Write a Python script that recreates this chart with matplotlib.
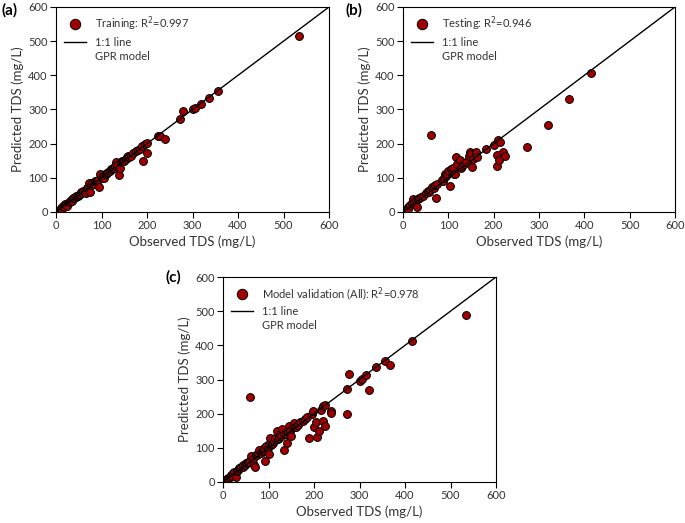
import matplotlib
matplotlib.use("Agg")
import matplotlib.pyplot as plt
from matplotlib.lines import Line2D

plt.rcParams['font.family'] = ['Lato', 'DejaVu Sans']

# ---- data ----
train_obs = [8, 10, 12, 15, 18, 20, 22, 25, 28, 30, 33, 35, 38, 40, 43, 45, 48, 50, 53, 55, 58, 60, 63, 65,
             68, 70, 72, 75, 78, 80, 83, 85, 88, 90, 93, 95, 97, 100, 103, 105, 108, 110, 113, 115, 118, 120,
             123, 125, 128, 130, 132, 135, 138, 140, 143, 145, 148, 150, 153, 155, 158, 160, 165, 170, 175,
             180, 185, 190, 192, 195, 200, 200, 225, 228, 240, 272, 280, 300, 305, 318, 337, 355, 533]
train_pred = [5, 12, 10, 17, 15, 22, 20, 18, 30, 28, 35, 33, 40, 42, 45, 48, 46, 50, 52, 58, 56, 62, 60, 55,
              70, 72, 85, 58, 80, 85, 82, 92, 88, 90, 95, 74, 110, 100, 105, 100, 110, 112, 115, 118, 120, 125,
              125, 130, 130, 135, 145, 138, 108, 128, 145, 148, 150, 150, 155, 162, 165, 160, 165, 172, 178,
              180, 185, 192, 150, 198, 202, 173, 222, 223, 215, 272, 295, 300, 303, 315, 335, 353, 515]

test_obs = [5, 8, 10, 12, 15, 20, 22, 25, 28, 30, 33, 35, 40, 45, 50, 55, 58, 60, 62, 65, 68, 70, 72, 75,
            85, 88, 90, 92, 95, 98, 100, 103, 105, 108, 110, 112, 115, 118, 120, 125, 128, 130, 135, 140,
            145, 148, 150, 153, 155, 160, 163, 183, 200, 207, 208, 210, 212, 213, 220, 224, 274, 320, 367, 415]
test_pred = [3, 8, 15, 10, 20, 25, 37, 30, 35, 15, 38, 40, 45, 48, 55, 62, 60, 65, 225, 72, 70, 80, 40, 82,
             95, 90, 100, 110, 105, 112, 120, 75, 125, 118, 130, 112, 110, 160, 140, 152, 130, 135, 140, 145,
             165, 175, 170, 133, 155, 177, 160, 183, 197, 168, 135, 210, 152, 205, 175, 165, 191, 255, 330, 407]

val_obs = [5, 8, 10, 12, 15, 18, 20, 22, 25, 28, 30, 33, 35, 38, 40, 43, 45, 48, 50, 53, 55, 58, 60, 62, 65,
           68, 70, 72, 75, 78, 80, 83, 85, 88, 90, 92, 95, 98, 100, 100, 103, 105, 108, 110, 113, 115, 118,
           120, 123, 125, 128, 130, 133, 135, 138, 140, 143, 145, 148, 150, 153, 155, 158, 160, 165, 170, 175,
           180, 185, 190, 195, 197, 200, 205, 207, 210, 215, 220, 220, 225, 225, 237, 238, 272, 272, 278, 300,
           305, 315, 320, 337, 355, 366, 415, 533]
val_pred = [5, 10, 12, 10, 15, 20, 18, 25, 30, 15, 32, 35, 40, 42, 45, 45, 50, 50, 55, 55, 58, 60, 250, 75, 68,
            50, 45, 80, 80, 85, 95, 85, 90, 95, 100, 62, 105, 100, 83, 110, 130, 108, 110, 115, 120, 130, 150,
            125, 128, 140, 135, 155, 140, 93, 140, 115, 145, 165, 150, 135, 160, 173, 160, 160, 168, 175, 178,
            183, 190, 128, 200, 207, 160, 175, 133, 150, 212, 178, 222, 165, 226, 208, 202, 273, 198, 315, 296,
            302, 314, 269, 337, 355, 342, 413, 489]

panels = [
    ("(a)", "Training: R$^{2}$=0.997", train_obs, train_pred),
    ("(b)", "Testing: R$^{2}$=0.946", test_obs, test_pred),
    ("(c)", "Model validation (All): R$^{2}$=0.978", val_obs, val_pred),
]
ticks = [0, 100, 200, 300, 400, 500, 600]

W, H = 685, 523
fig = plt.figure(figsize=(W / 100, H / 100), dpi=100)
rects = [
    (56 / W, 1 - 212 / H, 273 / W, 205 / H),
    (403 / W, 1 - 212 / H, 272 / W, 205 / H),
    (223 / W, 1 - 482 / H, 273 / W, 205 / H),
]
label_pos = [(1, 10), (345, 10), (165, 277)]

red = "#a00000"
txt = "#333333"
for (lab, leg, xo, yp), rect, lp in zip(panels, rects, label_pos):
    ax = fig.add_axes(rect)
    ax.plot([0, 600], [0, 600], color="black", lw=1.0, zorder=3)
    ax.scatter(xo, yp, s=32, color=red, edgecolor="black", linewidth=0.7, zorder=2)
    ax.set_xlim(0, 600)
    ax.set_ylim(0, 600)
    ax.set_xticks(ticks)
    ax.set_yticks(ticks)
    ax.tick_params(direction="out", length=4, width=0.8, labelsize=8, colors="black", labelcolor=txt, pad=2)
    for s in ax.spines.values():
        s.set_linewidth(0.8)
    ax.set_xlabel("Observed TDS (mg/L)", fontsize=9.5, color=txt, labelpad=3)
    ax.set_ylabel("Predicted TDS (mg/L)", fontsize=9.5, color=txt, labelpad=3)
    handles = [
        Line2D([], [], marker="o", ls="none", markersize=7.5, markerfacecolor=red, markeredgecolor="black", markeredgewidth=0.7),
        Line2D([], [], color="black", lw=1.0),
        Line2D([], [], ls="none"),
    ]
    ax.legend(handles, [leg, "1:1 line", "GPR model"], loc="upper left", frameon=False, fontsize=8,
              labelcolor=txt, handlelength=2.0, handletextpad=0.8, borderaxespad=0.3,
              labelspacing=0.3, bbox_to_anchor=(0.0, 1.0))
    fig.text(lp[0] / W, 1 - lp[1] / H, lab, fontsize=11, fontweight="bold", ha="left", va="center")

fig.savefig("out.png", dpi=100)
